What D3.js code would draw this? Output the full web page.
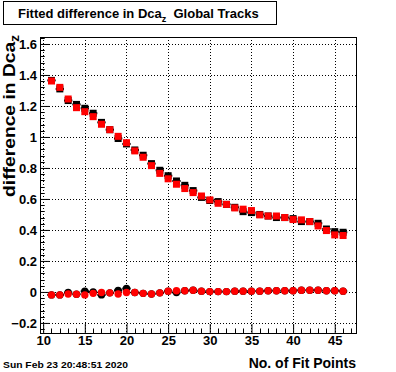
<!DOCTYPE html>
<html><head><meta charset="utf-8">
<script src="https://cdn.jsdelivr.net/npm/d3@7"></script>
<style>html,body{margin:0;padding:0;background:#fff;}svg{display:block;} text{white-space:pre;}</style>
</head><body>
<script>
const fitPoints = [11,12,13,14,15,16,17,18,19,20,21,22,23,24,25,26,27,28,29,30,31,32,33,34,35,36,37,38,39,40,41,42,43,44,45,46];
const blackUpper = [1.365,1.310,1.235,1.210,1.185,1.153,1.094,1.047,0.990,0.955,0.916,0.882,0.828,0.785,0.750,0.716,0.688,0.654,0.610,0.590,0.583,0.565,0.546,0.518,0.512,0.500,0.490,0.480,0.480,0.473,0.454,0.454,0.443,0.406,0.389,0.385];
const redUpper = [1.361,1.320,1.245,1.189,1.163,1.131,1.082,1.047,1.004,0.963,0.910,0.869,0.815,0.765,0.730,0.695,0.667,0.641,0.619,0.594,0.572,0.565,0.542,0.534,0.525,0.497,0.490,0.490,0.480,0.467,0.465,0.454,0.426,0.396,0.368,0.364];
const blackLower = [-0.019,-0.019,-0.004,-0.015,0.004,0.000,-0.019,-0.006,0.010,0.022,-0.004,-0.009,-0.013,-0.006,0.005,-0.004,0.008,0.011,0.005,0.002,0.002,0.002,0.005,0.005,0.005,0.005,0.008,0.008,0.008,0.008,0.011,0.011,0.011,0.008,0.008,0.005];
const redLower = [-0.019,-0.019,-0.013,-0.015,-0.019,-0.009,-0.004,-0.006,-0.013,-0.004,-0.004,-0.009,-0.013,-0.006,0.005,0.008,0.008,0.011,0.005,0.002,0.002,0.002,0.005,0.005,0.005,0.005,0.008,0.008,0.008,0.008,0.011,0.011,0.011,0.008,0.008,0.005];
const xTicks = [10,15,20,25,30,35,40,45];
const yTicks = [-0.2,0,0.2,0.4,0.6,0.8,1,1.2,1.4,1.6];
const titleMain = "Fitted difference in Dca";
const titleSub = "z";
const titleTail = "  Global Tracks";
const yTitleMain = "difference in Dca";
const yTitleSub = "z";
const xTitle = "No. of Fit Points";
const dateText = "Sun Feb 23 20:48:51 2020";

const W = 396, H = 372;
const L = 40, R = 356, T = 37, B = 333;
const FONT = "'Liberation Sans', Arial, Helvetica, sans-serif";

const svg = d3.select("body").append("svg").attr("width", W).attr("height", H)
  .style("font-family", FONT).style("font-weight", "bold");
svg.append("rect").attr("width", W).attr("height", H).attr("fill", "#fff");

const x = d3.scaleLinear().domain([9.62, 47.55]).range([L, R]);
const y = d3.scaleLinear().domain([-0.265, 1.645]).range([B, T]);

// grid
const grid = svg.append("g").attr("stroke", "#000").attr("stroke-width", 1).attr("stroke-dasharray", "1,2");
grid.selectAll(".gx").data(xTicks).join("line")
  .attr("x1", d => Math.round(x(d)) + 0.5).attr("x2", d => Math.round(x(d)) + 0.5)
  .attr("y1", T).attr("y2", B);
grid.selectAll(".gy").data(yTicks).join("line")
  .attr("y1", d => Math.round(y(d)) + 0.5).attr("y2", d => Math.round(y(d)) + 0.5)
  .attr("x1", L).attr("x2", R);

// axes (ticks inside frame)
const xAxis = d3.axisBottom(x).tickValues(xTicks).tickSize(-9).tickFormat(d3.format("d")).tickPadding(3);
const gx = svg.append("g").attr("transform", `translate(0,${B})`).call(xAxis);
gx.select(".domain").remove();
gx.selectAll("text").attr("font-size", 13).attr("font-family", FONT).attr("font-weight", "bold").attr("fill", "#000");
gx.selectAll("line").attr("stroke", "#000");
const xMinor = d3.range(10, 48, 1).filter(v => v % 5 !== 0);
svg.append("g").selectAll("line").data(xMinor).join("line")
  .attr("x1", d => Math.round(x(d)) + 0.5).attr("x2", d => Math.round(x(d)) + 0.5)
  .attr("y1", B).attr("y2", B - 4.5).attr("stroke", "#000");

const yAxis = d3.axisLeft(y).tickValues(yTicks).tickSize(-9.5)
  .tickFormat(d => d === 0 ? "0" : (d === 1 ? "1" : d3.format(".1f")(d).replace("-", "\u2212"))).tickPadding(3);
const gy = svg.append("g").attr("transform", `translate(${L},0)`).call(yAxis);
gy.select(".domain").remove();
gy.selectAll("text").attr("font-size", 13).attr("font-family", FONT).attr("font-weight", "bold").attr("fill", "#000");
gy.selectAll("line").attr("stroke", "#000");
const yMinor = d3.range(-0.24, 1.645, 0.04).filter(v => Math.abs(v / 0.2 - Math.round(v / 0.2)) > 0.01);
svg.append("g").selectAll("line").data(yMinor).join("line")
  .attr("y1", d => Math.round(y(d)) + 0.5).attr("y2", d => Math.round(y(d)) + 0.5)
  .attr("x1", L).attr("x2", L + 4.75).attr("stroke", "#000");

// frame
svg.append("rect").attr("x", L + 0.5).attr("y", T + 0.5).attr("width", R - L).attr("height", B - T)
  .attr("fill", "none").attr("stroke", "#000").attr("stroke-width", 1);

// data
const S = 7, Rc = 3.7;
const up = fitPoints.map((f, i) => ({f, b: blackUpper[i], r: redUpper[i]}));
const lo = fitPoints.map((f, i) => ({f, b: blackLower[i], r: redLower[i]}));
const gd = svg.append("g");
gd.selectAll(".ebu").data(up).join("line")
  .attr("x1", d => x(d.f - 0.5)).attr("x2", d => x(d.f + 0.5))
  .attr("y1", d => y(d.b)).attr("y2", d => y(d.b)).attr("stroke", "#000").attr("stroke-width", 2);
gd.selectAll(".ebl").data(lo).join("line")
  .attr("x1", d => x(d.f - 0.5)).attr("x2", d => x(d.f + 0.5))
  .attr("y1", d => y(d.b)).attr("y2", d => y(d.b)).attr("stroke", "#000").attr("stroke-width", 2);
gd.selectAll(".bsq").data(up).join("rect")
  .attr("x", d => x(d.f) - S / 2).attr("y", d => y(d.b) - S / 2).attr("width", S).attr("height", S).attr("fill", "#000");
gd.selectAll(".bci").data(lo).join("circle")
  .attr("cx", d => x(d.f)).attr("cy", d => y(d.b)).attr("r", Rc).attr("fill", "#000");
gd.selectAll(".rsq").data(up).join("rect")
  .attr("x", d => x(d.f) - S / 2).attr("y", d => y(d.r) - S / 2).attr("width", S).attr("height", S).attr("fill", "#ff0000");
gd.selectAll(".rci").data(lo).join("circle")
  .attr("cx", d => x(d.f)).attr("cy", d => y(d.r)).attr("r", Rc).attr("fill", "#ff0000");

// title box
svg.append("rect").attr("x", 3.5).attr("y", 1.5).attr("width", 273).attr("height", 23)
  .attr("fill", "#fff").attr("stroke", "#000").attr("stroke-width", 1);
const tt = svg.append("text").attr("x", 18).attr("y", 18).attr("font-size", 13).attr("fill", "#000");
tt.append("tspan").text(titleMain);
tt.append("tspan").attr("dy", 4).attr("font-size", 9).text(titleSub);
tt.append("tspan").attr("dy", -4).text(titleTail);

// y title
const yt = svg.append("text").attr("transform", `translate(15,${T - 2}) rotate(-90)`)
  .attr("text-anchor", "end").attr("font-size", 17).attr("fill", "#000")
  .attr("textLength", 162).attr("lengthAdjust", "spacingAndGlyphs");
yt.append("tspan").text(yTitleMain);
yt.append("tspan").attr("dy", 4).attr("font-size", 12).text(yTitleSub);

// x title
svg.append("text").attr("x", R).attr("y", 368).attr("text-anchor", "end")
  .attr("font-size", 14).attr("fill", "#000").text(xTitle);

// date
svg.append("text").attr("x", 3).attr("y", 368).attr("font-size", 9)
  .attr("textLength", 125).attr("lengthAdjust", "spacingAndGlyphs").attr("fill", "#000").text(dateText);
</script>
</body></html>
